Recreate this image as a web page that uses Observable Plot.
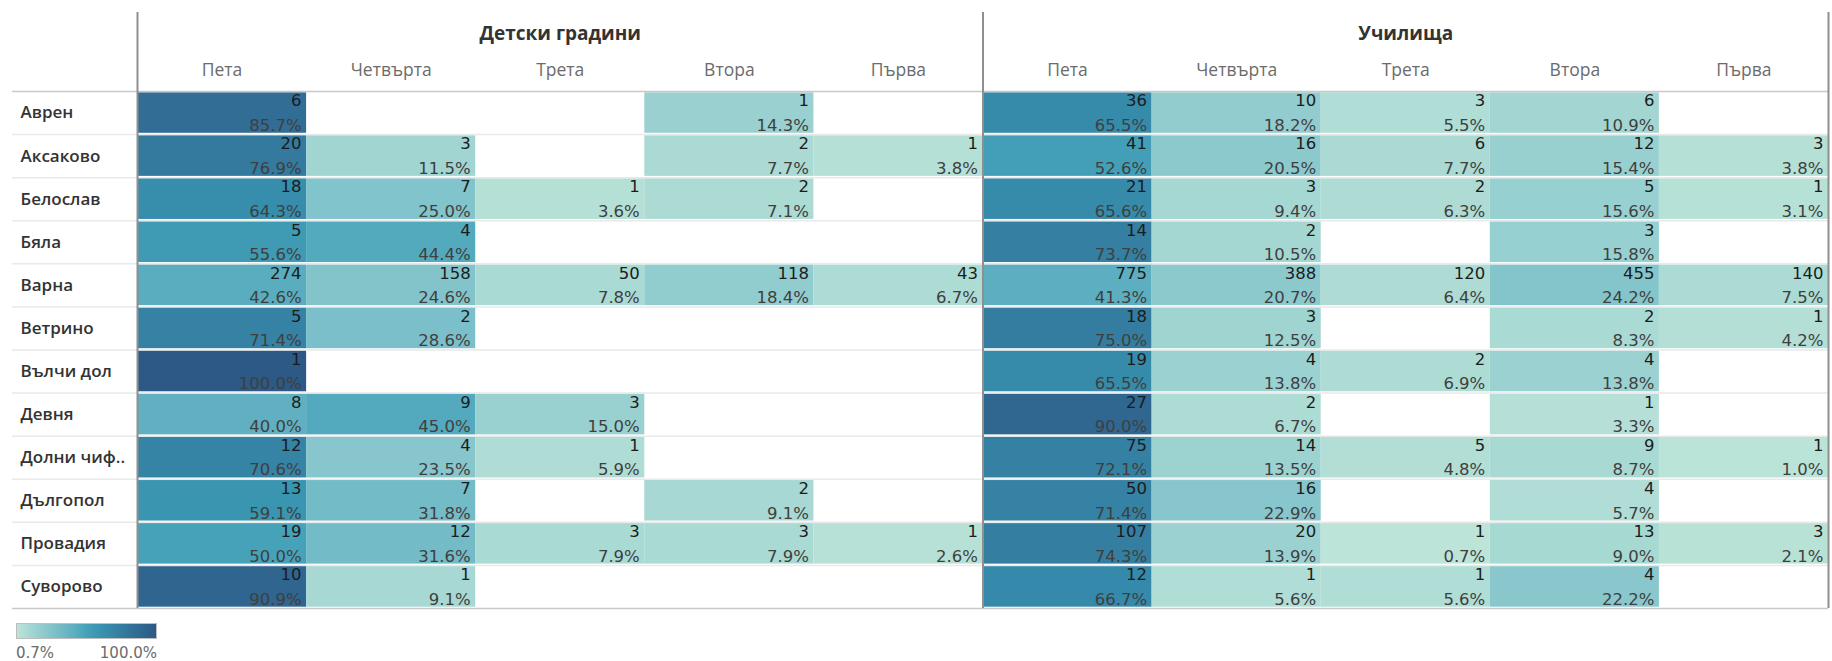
<!DOCTYPE html>
<html>
<head>
<meta charset="utf-8">
<script src="https://cdn.jsdelivr.net/npm/d3@7"></script>
<script src="https://cdn.jsdelivr.net/npm/@observablehq/plot@0.6"></script>
<style>
  body { margin: 0; background: #fff; }
  #chart svg { display: block; }
  #legend { margin: 11px 0 0 16px; width: 141px; font-family: "DejaVu Sans", sans-serif; }
  #legend .bar { height: 14px; border: 1px solid #bdbdbd; }
  #legend .labels { display: flex; justify-content: space-between; font-size: 15px; color: #6b6b6b; margin-top: 4px; line-height: 20px; }
</style>
</head>
<body>
<div id="chart"></div>
<div id="legend"></div>
<script>
// ---- data ----
const municipalities = ["Аврен", "Аксаково", "Белослав", "Бяла", "Варна", "Ветрино", "Вълчи дол", "Девня", "Долни чиф..", "Дългопол", "Провадия", "Суворово"];
const groups = ["Детски градини", "Училища"];
const levels = ["Пета", "Четвърта", "Трета", "Втора", "Първа"];

const kindergartenCounts = [
  [6, null, null, 1, null],
  [20, 3, null, 2, 1],
  [18, 7, 1, 2, null],
  [5, 4, null, null, null],
  [274, 158, 50, 118, 43],
  [5, 2, null, null, null],
  [1, null, null, null, null],
  [8, 9, 3, null, null],
  [12, 4, 1, null, null],
  [13, 7, null, 2, null],
  [19, 12, 3, 3, 1],
  [10, 1, null, null, null]
];
const kindergartenPercents = [
  [85.7, null, null, 14.3, null],
  [76.9, 11.5, null, 7.7, 3.8],
  [64.3, 25.0, 3.6, 7.1, null],
  [55.6, 44.4, null, null, null],
  [42.6, 24.6, 7.8, 18.4, 6.7],
  [71.4, 28.6, null, null, null],
  [100.0, null, null, null, null],
  [40.0, 45.0, 15.0, null, null],
  [70.6, 23.5, 5.9, null, null],
  [59.1, 31.8, null, 9.1, null],
  [50.0, 31.6, 7.9, 7.9, 2.6],
  [90.9, 9.1, null, null, null]
];
const schoolCounts = [
  [36, 10, 3, 6, null],
  [41, 16, 6, 12, 3],
  [21, 3, 2, 5, 1],
  [14, 2, null, 3, null],
  [775, 388, 120, 455, 140],
  [18, 3, null, 2, 1],
  [19, 4, 2, 4, null],
  [27, 2, null, 1, null],
  [75, 14, 5, 9, 1],
  [50, 16, null, 4, null],
  [107, 20, 1, 13, 3],
  [12, 1, 1, 4, null]
];
const schoolPercents = [
  [65.5, 18.2, 5.5, 10.9, null],
  [52.6, 20.5, 7.7, 15.4, 3.8],
  [65.6, 9.4, 6.3, 15.6, 3.1],
  [73.7, 10.5, null, 15.8, null],
  [41.3, 20.7, 6.4, 24.2, 7.5],
  [75.0, 12.5, null, 8.3, 4.2],
  [65.5, 13.8, 6.9, 13.8, null],
  [90.0, 6.7, null, 3.3, null],
  [72.1, 13.5, 4.8, 8.7, 1.0],
  [71.4, 22.9, null, 5.7, null],
  [74.3, 13.9, 0.7, 9.0, 2.1],
  [66.7, 5.6, 5.6, 22.2, null]
];
const legendLabels = ["0.7%", "100.0%"];
const tealBlues = ["#bce4d8", "#9dd3d1", "#81c3cb", "#65b3c2", "#45a2b9", "#368fae", "#347da0", "#306a93", "#2c5985"];

// ---- table ----
const countsByGroup = [kindergartenCounts, schoolCounts];
const percentsByGroup = [kindergartenPercents, schoolPercents];
const cells = [];
municipalities.forEach((m, i) => {
  groups.forEach((g, gi) => {
    levels.forEach((l, j) => {
      const c = countsByGroup[gi][i][j];
      if (c == null) return;
      cells.push({muni: m, group: g, level: l, row: i, col: gi * levels.length + j, count: c, pct: percentsByGroup[gi][i][j]});
    });
  });
});
const columns = groups.flatMap((g, gi) => levels.map((l, j) => ({group: g, level: l, col: gi * levels.length + j})));
const nCols = columns.length;
const nRows = municipalities.length;

const W = 1832, H = 612, mL = 137, mR = 4, mT = 91, mB = 4;
const interp = d3.piecewise(d3.interpolateRgb, tealBlues);
const pctExtent = d3.extent(cells, d => d.pct);

const labelFont = "'Open Sans', sans-serif";
const numFont = "'DejaVu Sans', sans-serif";

const chart = Plot.plot({
  width: W,
  height: H,
  marginLeft: mL,
  marginRight: mR,
  marginTop: mT,
  marginBottom: mB,
  style: {fontFamily: labelFont, background: "#fff"},
  x: {type: "linear", domain: [0, nCols], axis: null},
  y: {type: "linear", domain: [0, nRows], reverse: true, axis: null},
  color: {type: "linear", domain: pctExtent, interpolate: interp},
  marks: [
    // light row separators
    Plot.ruleY(d3.range(1, nRows), {stroke: "#e9e9e9", strokeWidth: 1.5, insetLeft: -(mL - 12)}),
    // cells
    Plot.rect(cells, {x1: "col", x2: d => d.col + 1, y1: "row", y2: d => d.row + 1, fill: "pct", insetTop: 1.3, insetBottom: 1.3}),
    // header and bottom lines
    Plot.ruleY([0, nRows], {stroke: "#c8c8c8", strokeWidth: 1.5, insetLeft: -(mL - 12)}),
    // vertical dividers
    Plot.ruleX([0, levels.length, nCols], {stroke: "#8f8f8f", strokeWidth: 2, insetTop: -(mT - 12)}),
    // counts
    Plot.text(cells, {x: d => d.col + 1, y: d => d.row + 0.5, text: d => String(d.count), textAnchor: "end", dx: -5, dy: -12, fontSize: 16.5, fontFamily: numFont, fill: "#1c1c1c"}),
    // percents
    Plot.text(cells, {x: d => d.col + 1, y: d => d.row + 0.5, text: d => d.pct.toFixed(1) + "%", textAnchor: "end", dx: -5, dy: 12.5, fontSize: 16.5, fontFamily: numFont, fill: "#3f3f3f"}),
    // row labels
    Plot.text(municipalities, {y: (d, i) => i + 0.5, text: d => d, frameAnchor: "left", textAnchor: "start", dx: -(mL - 20), fontSize: 17, fontWeight: 600, fill: "#333"}),
    // column headers
    Plot.text(columns, {x: d => d.col + 0.5, text: "level", frameAnchor: "top", lineAnchor: "middle", dy: -21, fontSize: 17.5, fill: "#6b6b6b"}),
    // group headers
    Plot.text(groups, {x: (d, i) => i * levels.length + levels.length / 2, text: d => d, frameAnchor: "top", lineAnchor: "middle", dy: -58, fontSize: 19, fontWeight: "bold", fill: "#333"})
  ]
});
document.getElementById("chart").appendChild(chart);

// ---- legend ----
const stops = d3.range(0, 1.0001, 0.1).map(t => interp(t));
const legend = document.getElementById("legend");
legend.innerHTML = `<div class="bar" style="background: linear-gradient(to right, ${stops.join(", ")})"></div>
<div class="labels"><span>${legendLabels[0]}</span><span>${legendLabels[1]}</span></div>`;
</script>
</body>
</html>
